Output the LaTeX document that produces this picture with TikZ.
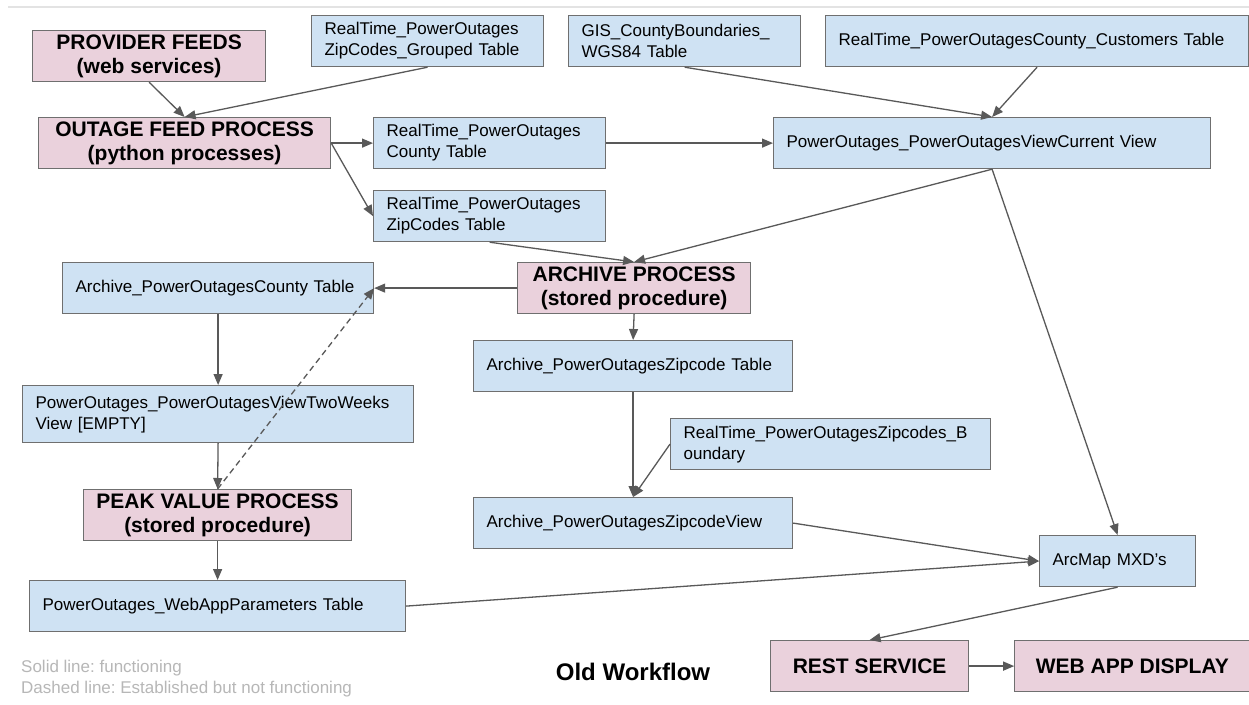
\documentclass[tikz,border=0pt]{standalone}
\usepackage{fontspec}
\setmainfont{Liberation Sans}
\usetikzlibrary{arrows.meta,positioning}
\definecolor{tblblue}{HTML}{CFE2F3}
\definecolor{procpink}{HTML}{EAD1DC}
\definecolor{boxline}{HTML}{6F6F6F}
\definecolor{arrowgray}{HTML}{595959}
\definecolor{legendgray}{HTML}{B7B7B7}
\definecolor{rulegray}{HTML}{E3E3E3}
\newcommand\tblfont{\fontsize{17}{21}\selectfont}
\newcommand\procfont{\fontsize{21}{24}\selectfont\bfseries}
\newcommand\titlefont{\fontsize{24}{28}\selectfont\bfseries}
\frenchspacing
\begin{document}
\begin{tikzpicture}[x=1pt, y=-1pt,
    tbl/.style={draw=boxline, line width=1.2pt, fill=tblblue, font=\tblfont, align=left,
      inner xsep=13pt, inner ysep=0pt, text width=#1-26pt, minimum height=51pt, anchor=north west},
    proc/.style={draw=boxline, line width=1.2pt, fill=procpink, font=\procfont, align=center,
      inner sep=0pt, minimum width=#1, minimum height=51pt, anchor=north west},
    flow/.style={draw=arrowgray, line width=1.3pt, -{Triangle[length=11pt,width=9pt]}},
    broken/.style={flow, dash pattern=on 6pt off 4pt}]
\fill[white] (0,0) rectangle (1249,704);
\useasboundingbox (0,0) rectangle (1249,704);
\draw[rulegray, line width=2pt] (8,7) -- (1249,7);

\node[proc=233pt] (feeds) at (32,30) {PROVIDER FEEDS\\(web services)};
\node[proc=292pt] (outage) at (38,117) {OUTAGE FEED PROCESS\\(python processes)};
\node[tbl=232pt] (grouped) at (311,15) {RealTime\_PowerOutages\\ZipCodes\_Grouped Table};
\node[tbl=232pt] (gis) at (568,15) {GIS\_CountyBoundaries\_\\WGS84 Table};
\node[tbl=423pt] (customers) at (825,15) {RealTime\_PowerOutagesCounty\_Customers Table};
\node[tbl=232pt] (rtcounty) at (373,117) {RealTime\_PowerOutages\\County Table};
\node[tbl=437pt] (current) at (773,117) {PowerOutages\_PowerOutagesViewCurrent View};
\node[tbl=232pt] (rtzip) at (373,190) {RealTime\_PowerOutages\\ZipCodes Table};
\node[proc=233pt] (archive) at (517,262) {ARCHIVE PROCESS\\(stored procedure)};
\node[tbl=311pt] (arccounty) at (62,262) {Archive\_PowerOutagesCounty Table};
\node[tbl=319pt] (arczip) at (473,340) {Archive\_PowerOutagesZipcode Table};
\node[tbl=391pt, minimum height=57pt] (twoweeks) at (22,385) {PowerOutages\_PowerOutagesViewTwoWeeks\\View [EMPTY]};
\node[tbl=320pt] (boundary) at (670,418) {RealTime\_PowerOutagesZipcodes\_B\\oundary};
\node[proc=268pt] (peak) at (83,489) {PEAK VALUE PROCESS\\(stored procedure)};
\node[tbl=319pt] (zipview) at (473,497) {Archive\_PowerOutagesZipcodeView};
\node[tbl=156pt] (arcmap) at (1039,535) {ArcMap MXD’s};
\node[tbl=376pt] (webapp) at (29,580) {PowerOutages\_WebAppParameters Table};
\node[proc=198pt] (rest) at (770,640) {REST SERVICE};
\node[proc=235pt, right=45pt of rest] (webdisp) {WEB APP DISPLAY};

\node[font=\tblfont, text=legendgray, align=left, anchor=west, inner sep=0pt] (legend) at (21,679) {Solid line: functioning\\Dashed line: Established but not functioning};
\node[font=\titlefont, inner sep=0pt] (title) at (633,672) {Old Workflow};

\draw[flow] (feeds.south) -- (outage.north);
\draw[flow] (grouped.south) -- (outage.north);
\draw[flow] (outage.east) -- (rtcounty.west);
\draw[flow] (outage.east) -- (rtzip.west);
\draw[flow] (gis.south) -- (current.north);
\draw[flow] (customers.south) -- (current.north);
\draw[flow] (rtcounty.east) -- (current.west);
\draw[flow] (current.south) -- (archive.north);
\draw[flow] (rtzip.south) -- (archive.north);
\draw[flow] (current.south) -- (arcmap.north);
\draw[flow] (archive.west) -- (arccounty.east);
\draw[flow] (archive.south) -- (arczip.north);
\draw[flow] (arccounty.south) -- (twoweeks.north);
\draw[flow] (twoweeks.south) -- (peak.north);
\draw[broken] (peak.north) -- (arccounty.east);
\draw[flow] (arczip.south) -- (zipview.north);
\draw[flow] (boundary.west) -- (zipview.north);
\draw[flow] (zipview.east) -- (arcmap.west);
\draw[flow] (webapp.east) -- (arcmap.west);
\draw[flow] (peak.south) -- (webapp.north);
\draw[flow] (arcmap.south) -- (rest.north);
\draw[flow] (rest.east) -- (webdisp.west);
\end{tikzpicture}
\end{document}
